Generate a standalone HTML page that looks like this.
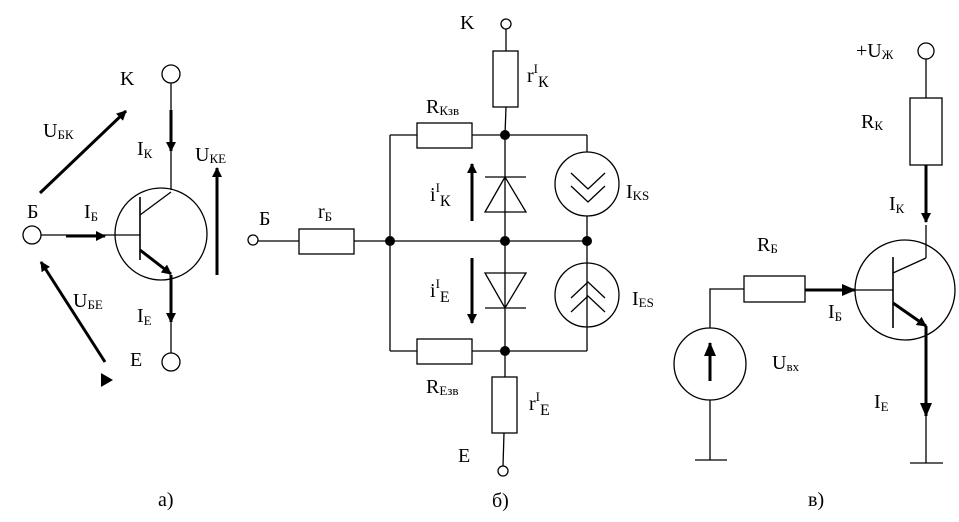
<!DOCTYPE html>
<html><head><meta charset="utf-8"><style>
html,body{margin:0;padding:0;background:#fff}
svg{display:block}
text{font-family:"Liberation Serif",serif;fill:#000}
.t{font-size:20px}
.s{font-size:13px}
</style></head><body>
<svg width="959" height="522" viewBox="0 0 959 522" xmlns="http://www.w3.org/2000/svg">
<defs>
<marker id="ah" markerWidth="10" markerHeight="10" refX="9" refY="5" orient="auto" markerUnits="userSpaceOnUse"><path d="M0,0 L10,5 L0,10 Z" fill="#000"/></marker>
<marker id="ahb" markerWidth="14" markerHeight="12" refX="13" refY="6" orient="auto" markerUnits="userSpaceOnUse"><path d="M0,0 L14,6 L0,12 Z" fill="#000"/></marker>
</defs>
<g fill="none" stroke="#000" stroke-width="1.3">
<circle cx="171" cy="74" r="9"/>
<line x1="171" y1="83" x2="171" y2="190"/>
<circle cx="161" cy="234" r="46"/>
<circle cx="32" cy="235" r="9"/>
<line x1="41" y1="235" x2="140" y2="235"/>
<line x1="140" y1="197" x2="140" y2="260" stroke-width="1.6"/>
<line x1="140" y1="215" x2="171" y2="192"/>
<line x1="171" y1="275" x2="171" y2="353"/>
<circle cx="171" cy="362" r="9"/>
</g>
<g stroke="#000" stroke-width="3" fill="none">
<line x1="171" y1="110" x2="171" y2="151" marker-end="url(#ah)"/>
<line x1="66" y1="236" x2="105" y2="236" marker-end="url(#ah)"/>
<line x1="140" y1="250" x2="171" y2="274" marker-end="url(#ah)"/>
<line x1="171" y1="275" x2="171" y2="322" marker-end="url(#ah)"/>
<line x1="217" y1="275" x2="217" y2="168" marker-end="url(#ah)"/>
<line x1="40" y1="193" x2="126" y2="111" marker-end="url(#ah)"/>
<line x1="105" y1="362" x2="41" y2="262" marker-end="url(#ah)"/>
</g>
<path d="M101,373 L113,380 L101,387 Z" fill="#000"/>
<text x="120" y="85" class="t">K</text>
<text x="43" y="137" class="t">U<tspan class="s" dy="2">БК</tspan></text>
<text x="137" y="155" class="t">I<tspan class="s" dy="3">К</tspan></text>
<text x="195" y="161" class="t">U<tspan class="s" dy="2">КЕ</tspan></text>
<text x="27" y="218" class="t">Б</text>
<text x="84" y="218" class="t">I<tspan class="s" dy="3">Б</tspan></text>
<text x="73" y="307" class="t">U<tspan class="s" dy="2">БЕ</tspan></text>
<text x="137" y="322" class="t">I<tspan class="s" dy="3">Е</tspan></text>
<text x="130" y="366" class="t">E</text>
<text x="158" y="506" class="t">а)</text>

<g fill="none" stroke="#000" stroke-width="1.3">
<circle cx="506" cy="24" r="5"/>
<line x1="506" y1="29" x2="506" y2="51"/>
<rect x="493" y="51" width="25" height="56"/>
<line x1="506" y1="107" x2="505" y2="135"/>
<line x1="390" y1="135" x2="417" y2="135"/>
<rect x="417" y="123" width="55" height="25"/>
<line x1="472" y1="135" x2="587" y2="135"/>
<line x1="587" y1="135" x2="587" y2="152"/>
<line x1="390" y1="135" x2="390" y2="351"/>
<circle cx="253" cy="240" r="5"/>
<line x1="258" y1="241" x2="299" y2="241"/>
<rect x="299" y="229" width="55" height="25"/>
<line x1="354" y1="241" x2="587" y2="241"/>
<line x1="505" y1="135" x2="505" y2="351"/>
<line x1="485" y1="177" x2="526" y2="177"/>
<path d="M505,177 L485,212 L526,212 Z"/>
<path d="M485,273 L526,273 L505,308 Z"/>
<line x1="485" y1="308" x2="526" y2="308"/>
<circle cx="587" cy="184" r="32"/>
<polyline points="571,173 588,189 605,173"/>
<polyline points="571,186 588,202 605,186"/>
<line x1="587" y1="216" x2="587" y2="351"/>
<circle cx="587" cy="295" r="32"/>
<polyline points="571,298 588,282 605,298"/>
<polyline points="571,312 588,296 605,312"/>
<line x1="390" y1="351" x2="417" y2="351"/>
<rect x="417" y="339" width="55" height="25"/>
<line x1="472" y1="351" x2="587" y2="351"/>
<line x1="505" y1="351" x2="505" y2="377"/>
<rect x="492" y="377" width="25" height="56"/>
<line x1="504" y1="433" x2="503" y2="466"/>
<circle cx="503" cy="471" r="5"/>
</g>
<g fill="#000">
<circle cx="390" cy="241" r="5"/><circle cx="505" cy="241" r="5"/><circle cx="587" cy="241" r="5"/>
<circle cx="505" cy="135" r="5"/><circle cx="505" cy="351" r="5"/>
</g>
<g stroke="#000" stroke-width="3">
<line x1="472" y1="221" x2="472" y2="164" marker-end="url(#ah)"/>
<line x1="472" y1="258" x2="472" y2="323" marker-end="url(#ah)"/>
</g>
<text x="460" y="29" class="t">K</text>
<text x="527" y="82" class="t">r<tspan class="s" dy="-9">I</tspan><tspan dy="14" font-size="16">К</tspan></text>
<text x="426" y="113" class="t">R<tspan class="s" dy="2">Кзв</tspan></text>
<text x="430" y="201" class="t">i<tspan class="s" dy="-9">I</tspan><tspan dy="14" font-size="16">К</tspan></text>
<text x="626" y="198" class="t">I<tspan class="s" dy="2">KS</tspan></text>
<text x="259" y="225" class="t">Б</text>
<text x="318" y="218" class="t">r<tspan class="s" dy="3">Б</tspan></text>
<text x="430" y="297" class="t">i<tspan class="s" dy="-9">I</tspan><tspan dy="14" font-size="16">Е</tspan></text>
<text x="632" y="305" class="t">I<tspan class="s" dy="2">ES</tspan></text>
<text x="426" y="393" class="t">R<tspan class="s" dy="2">Езв</tspan></text>
<text x="529" y="410" class="t">r<tspan class="s" dy="-9">I</tspan><tspan dy="14" font-size="16">Е</tspan></text>
<text x="458" y="462" class="t">E</text>
<text x="492" y="507" class="t">б)</text>

<g fill="none" stroke="#000" stroke-width="1.3">
<circle cx="926" cy="51" r="8"/>
<line x1="926" y1="59" x2="926" y2="98"/>
<rect x="910" y="98" width="32" height="67"/>
<circle cx="905" cy="290" r="50"/>
<line x1="855" y1="290" x2="893" y2="290"/>
<line x1="893" y1="257" x2="893" y2="328" stroke-width="1.6"/>
<line x1="893" y1="273" x2="926" y2="258"/>
<line x1="926" y1="258" x2="926" y2="225"/>
<line x1="926" y1="325" x2="926" y2="463"/>
<line x1="910" y1="463" x2="943" y2="463"/>
<rect x="744" y="276" width="61" height="26"/>
<polyline points="744,289 710,289 710,328"/>
<circle cx="710" cy="364" r="36"/>
<line x1="710" y1="400" x2="710" y2="460"/>
<line x1="695" y1="460" x2="727" y2="460"/>
</g>
<g stroke="#000" stroke-width="3">
<line x1="926" y1="165" x2="926" y2="222" marker-end="url(#ah)"/>
<line x1="805" y1="290" x2="855" y2="290" marker-end="url(#ahb)"/>
<line x1="893" y1="303" x2="926" y2="326" marker-end="url(#ah)"/>
<line x1="926" y1="326" x2="926" y2="416" marker-end="url(#ahb)"/>
<line x1="710" y1="381" x2="710" y2="343" marker-end="url(#ahb)"/>
</g>
<text x="856" y="57" class="t">+U<tspan class="s" dy="2">Ж</tspan></text>
<text x="861" y="128" class="t">R<tspan class="s" dy="2">К</tspan></text>
<text x="889" y="210" class="t">I<tspan class="s" dy="3">К</tspan></text>
<text x="757" y="251" class="t">R<tspan class="s" dy="2">Б</tspan></text>
<text x="828" y="318" class="t">I<tspan class="s" dy="3">Б</tspan></text>
<text x="772" y="369" class="t">U<tspan class="s" dy="2">вх</tspan></text>
<text x="874" y="408" class="t">I<tspan class="s" dy="3">Е</tspan></text>
<text x="808" y="506" class="t">в)</text>
</svg>
</body></html>
